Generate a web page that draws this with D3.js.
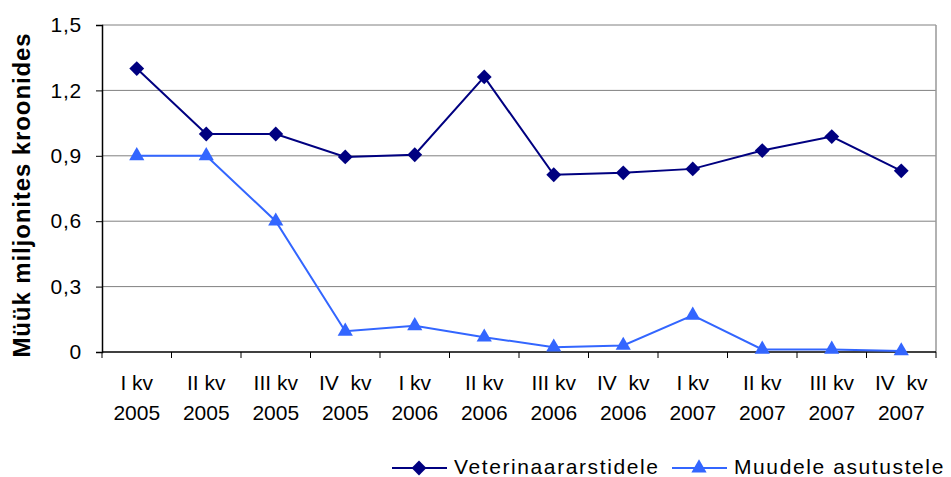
<!DOCTYPE html>
<html>
<head>
<meta charset="utf-8">
<script src="https://cdn.jsdelivr.net/npm/d3@7"></script>
<style>
  body { margin: 0; background: #fff; overflow: hidden; }
  svg { display: block; }
  text { font-family: "Liberation Sans", Arial, sans-serif; fill: #000; }
</style>
</head>
<body>
<svg id="chart" width="951" height="477"></svg>
<script>
const quarters = ['I kv', 'II kv', 'III kv', 'IV  kv', 'I kv', 'II kv', 'III kv', 'IV  kv', 'I kv', 'II kv', 'III kv', 'IV  kv'];
const years = ['2005', '2005', '2005', '2005', '2006', '2006', '2006', '2006', '2007', '2007', '2007', '2007'];
const vet = [1.30, 1.00, 1.00, 0.895, 0.905, 1.262, 0.813, 0.822, 0.840, 0.924, 0.988, 0.831];
const other = [0.90, 0.90, 0.60, 0.095, 0.120, 0.068, 0.022, 0.030, 0.168, 0.012, 0.012, 0.005];
const yTicks = [0, 0.3, 0.6, 0.9, 1.2, 1.5];

const svg = d3.select('#chart');
const margin = {top: 25, right: 15, bottom: 125, left: 102};
const innerWidth = 951 - margin.left - margin.right;
const innerHeight = 477 - margin.top - margin.bottom;
const g = svg.append('g').attr('transform', `translate(${margin.left}, ${margin.top})`);

const idx = d3.range(quarters.length);
const xScale = d3.scaleBand().domain(idx).range([0, innerWidth]);
const yScale = d3.scaleLinear().domain([0, 1.5]).range([innerHeight, 0]);
const fmt = d => d === 0 ? '0' : d3.format('.1f')(d).replace('.', ',');

// gridlines
g.selectAll('.grid').data(yTicks.slice(1)).enter().append('line')
  .attr('x1', 0).attr('x2', innerWidth)
  .attr('y1', d => yScale(d)).attr('y2', d => yScale(d))
  .attr('stroke', '#808080').attr('stroke-width', 1);
// right border
g.append('line').attr('x1', innerWidth).attr('x2', innerWidth)
  .attr('y1', 0).attr('y2', innerHeight)
  .attr('stroke', '#999').attr('stroke-width', 1.5);

// y axis
const yAxis = d3.axisLeft(yScale).tickValues(yTicks).tickSize(6).tickPadding(14).tickFormat(fmt);
const yAxisG = g.append('g').call(yAxis);
yAxisG.attr('font-size', null).attr('font-family', null);
yAxisG.select('.domain').attr('stroke', '#000').attr('stroke-width', 1.5);
yAxisG.selectAll('.tick line').attr('stroke', '#000');
yAxisG.selectAll('.tick text').style('font-size', '21px').style('letter-spacing', '0.8px');

// x axis (ticks between categories)
const xAxisG = g.append('g').attr('transform', `translate(0, ${innerHeight})`);
xAxisG.append('line').attr('x1', 0).attr('x2', innerWidth)
  .attr('stroke', '#000').attr('stroke-width', 1.5);
const bounds = idx.map(i => xScale(i)).concat([innerWidth]);
xAxisG.selectAll('.xt').data(bounds).enter().append('line')
  .attr('x1', d => d).attr('x2', d => d).attr('y1', 0).attr('y2', 6)
  .attr('stroke', '#000');
const cx = i => xScale(i) + xScale.bandwidth() / 2;
xAxisG.selectAll('.xq').data(idx).enter().append('text')
  .attr('text-anchor', 'middle')
  .attr('x', cx).attr('y', 38)
  .style('font-size', '21px').style('white-space', 'pre')
  .text(d => quarters[d]);
xAxisG.selectAll('.xy').data(idx).enter().append('text')
  .attr('text-anchor', 'middle')
  .attr('x', cx).attr('y', 68)
  .style('font-size', '21px')
  .text(d => years[d]);

// y axis title
svg.append('text')
  .attr('transform', 'translate(30, 195) rotate(-90)')
  .attr('text-anchor', 'middle')
  .style('font-size', '24px').style('letter-spacing', '0.9px')
  .attr('font-weight', 'bold')
  .text('Müük miljonites kroonides');

// lines
const series = [
  {name: 'Veterinaararstidele', values: vet, color: '#000080', shape: d3.symbolSquare, size: 110, rot: 45},
  {name: 'Muudele asutustele', values: other, color: '#3366FF', shape: d3.symbolTriangle, size: 100, rot: 0}
];
const line = d3.line().x((d, i) => cx(i)).y(d => yScale(d));
series.forEach(s => {
  g.append('path').datum(s.values)
    .attr('d', line).attr('fill', 'none')
    .attr('stroke', s.color).attr('stroke-width', 2);
  g.selectAll(null).data(s.values).enter().append('path')
    .attr('d', d3.symbol().type(s.shape).size(s.size))
    .attr('transform', (d, i) => `translate(${cx(i)}, ${yScale(d)}) rotate(${s.rot})`)
    .attr('fill', s.color);
});

// legend
const legendX = [392, 672];
const leg = svg.selectAll('.legend').data(series).enter().append('g')
  .attr('transform', (d, i) => `translate(${legendX[i]}, 468)`);
leg.append('line').attr('x1', 0).attr('x2', 55)
  .attr('stroke', d => d.color).attr('stroke-width', 2);
leg.append('path')
  .attr('d', d => d3.symbol().type(d.shape).size(d.size)())
  .attr('transform', d => `translate(27, 0) rotate(${d.rot})`)
  .attr('fill', d => d.color);
leg.append('text').attr('x', 62).attr('y', 6)
  .style('font-size', '21px').style('letter-spacing', '1.6px')
  .text(d => d.name);
</script>
</body>
</html>
